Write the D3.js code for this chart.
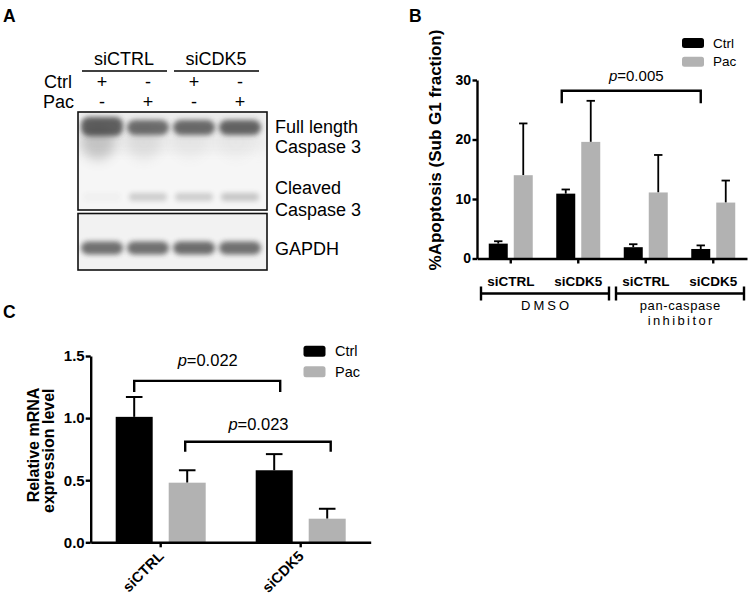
<!DOCTYPE html>
<html>
<head>
<meta charset="utf-8">
<script src="https://cdn.jsdelivr.net/npm/d3@7/dist/d3.min.js"></script>
<style>
  html, body { margin: 0; padding: 0; background: #fff; }
  svg { display: block; font-family: "Liberation Sans", Arial, Helvetica, sans-serif; }
</style>
</head>
<body>
<svg id="fig" width="751" height="597"></svg>
<script>
// ---------------- DATA ----------------
// Panel A (western blot)
const lanes = ["L1", "L2", "L3", "L4"];
const laneGroups = ["siCTRL", "siCDK5"];
const ctrlSigns = ["+", "-", "+", "-"];
const pacSigns = ["-", "+", "-", "+"];
const fullLengthIntensity = [0.8, 0.72, 0.74, 0.78];
const fullLengthSmear = [0.3, 0.12, 0.05, 0.04];
const cleavedIntensity = [0.03, 0.22, 0.22, 0.26];
const gapdhIntensity = [0.72, 0.72, 0.74, 0.72];
const blotLabels = [["Full length", "Caspase 3"], ["Cleaved", "Caspase 3"], ["GAPDH"]];

// Panel B
const bSeries = ["Ctrl", "Pac"];
const bGroups = ["DMSO-siCTRL", "DMSO-siCDK5", "PCI-siCTRL", "PCI-siCDK5"];
const bCategoryLabels = ["siCTRL", "siCDK5", "siCTRL", "siCDK5"];
const bCtrl = [2.5, 10.9, 1.9, 1.6];
const bCtrlErr = [0.4, 0.7, 0.5, 0.6];
const bPac = [14.0, 19.6, 11.1, 9.4];
const bPacErr = [8.7, 6.9, 6.3, 3.7];
const bTicks = [0, 10, 20, 30];
const bTreatments = [["DMSO"], ["pan-caspase", "inhibitor"]];
const bTreatmentGroups = [[0, 1], [2, 3]];
const bComparisonLabel = "=0.005";

// Panel C
const cSeries = ["Ctrl", "Pac"];
const cCategories = ["siCTRL", "siCDK5"];
const cCtrl = [1.01, 0.58];
const cCtrlErr = [0.16, 0.13];
const cPac = [0.48, 0.19];
const cPacErr = [0.10, 0.08];
const cTicks = [0, 0.5, 1.0, 1.5];
const cComparisonLabels = ["=0.022", "=0.023"];

const seriesColor = d3.scaleOrdinal().domain(["Ctrl", "Pac"]).range(["#000000", "#b2b2b2"]);

// ---------------- SVG ----------------
const svg = d3.select("#fig");
svg.append("rect").attr("width", 751).attr("height", 597).attr("fill", "#fff");

const defs = svg.append("defs");
defs.append("filter").attr("id", "blur").attr("x", "-30%").attr("y", "-80%").attr("width", "160%").attr("height", "260%")
  .append("feGaussianBlur").attr("stdDeviation", 2.8);
defs.append("filter").attr("id", "blurBig").attr("x", "-50%").attr("y", "-50%").attr("width", "200%").attr("height", "200%")
  .append("feGaussianBlur").attr("stdDeviation", 6);

function panelLetter(t, x, y) {
  svg.append("text").attr("x", x).attr("y", y).attr("font-size", 17.5).attr("font-weight", "bold").text(t);
}
panelLetter("A", 3, 22);
panelLetter("B", 409, 22);
panelLetter("C", 3, 318);

// ---------------- PANEL A ----------------
(function () {
  const g = svg.append("g");
  const laneX = d3.scalePoint().domain(lanes).range([102, 240]);
  const groupIdx = [[0, 1], [2, 3]];

  laneGroups.forEach((name, i) => {
    const l0 = laneX(lanes[groupIdx[i][0]]), l1 = laneX(lanes[groupIdx[i][1]]);
    g.append("text").attr("x", (l0 + l1) / 2 - 1).attr("y", 65).attr("text-anchor", "middle")
      .attr("font-size", 18).text(name);
    g.append("line").attr("x1", l0 - 20).attr("x2", l1 + 19).attr("y1", 71).attr("y2", 71)
      .attr("stroke", "#000").attr("stroke-width", 1.4);
  });
  g.append("text").attr("x", 72).attr("y", 87.5).attr("text-anchor", "end").attr("font-size", 18).text("Ctrl");
  g.append("text").attr("x", 74).attr("y", 107.5).attr("text-anchor", "end").attr("font-size", 18).text("Pac");
  lanes.forEach((ln, i) => {
    g.append("text").attr("x", laneX(ln)).attr("y", 87.5).attr("text-anchor", "middle").attr("font-size", 18).text(ctrlSigns[i]);
    g.append("text").attr("x", laneX(ln)).attr("y", 107.5).attr("text-anchor", "middle").attr("font-size", 18).text(pacSigns[i]);
  });

  const box1 = { x: 78, y: 112, w: 189, h: 98 };
  const box2 = { x: 78, y: 213.5, w: 189, h: 56.5 };
  [box1, box2].forEach((b, i) => {
    defs.append("clipPath").attr("id", "clipBlot" + i).append("rect")
      .attr("x", b.x).attr("y", b.y).attr("width", b.w).attr("height", b.h);
  });

  const b1 = g.append("g").attr("clip-path", "url(#clipBlot0)");
  b1.append("rect").attr("x", box1.x).attr("y", box1.y).attr("width", box1.w).attr("height", box1.h).attr("fill", "#f6f6f6");
  b1.append("rect").attr("x", box1.x).attr("y", box1.y - 5).attr("width", box1.w).attr("height", 45)
    .attr("fill", "#d8d8d8").attr("opacity", 0.35).attr("filter", "url(#blurBig)");
  b1.selectAll("ellipse.smear").data(lanes).join("ellipse")
    .attr("cx", d => laneX(d) - 4).attr("cy", 142).attr("rx", 17).attr("ry", 18)
    .attr("fill", "#666").attr("opacity", (d, i) => fullLengthSmear[i]).attr("filter", "url(#blurBig)");
  b1.selectAll("rect.fl").data(lanes).join("rect")
    .attr("x", d => laneX(d) - 21).attr("y", (d, i) => i === 0 ? 117 : 120)
    .attr("width", 42).attr("height", (d, i) => i === 0 ? 19 : 15).attr("rx", 8)
    .attr("fill", "#3c3c3c").attr("opacity", (d, i) => fullLengthIntensity[i]).attr("filter", "url(#blur)");
  b1.selectAll("rect.cl").data(lanes).join("rect")
    .attr("x", d => laneX(d) - 19).attr("y", 193).attr("width", 38).attr("height", 8).attr("rx", 4)
    .attr("fill", "#3c3c3c").attr("opacity", (d, i) => cleavedIntensity[i]).attr("filter", "url(#blur)");
  g.append("rect").attr("x", box1.x).attr("y", box1.y).attr("width", box1.w).attr("height", box1.h)
    .attr("fill", "none").attr("stroke", "#111").attr("stroke-width", 1.6);

  const b2 = g.append("g").attr("clip-path", "url(#clipBlot1)");
  b2.append("rect").attr("x", box2.x).attr("y", box2.y).attr("width", box2.w).attr("height", box2.h).attr("fill", "#f2f2f2");
  b2.selectAll("rect.gp").data(lanes).join("rect")
    .attr("x", d => laneX(d) - 21).attr("y", 241.5).attr("width", 42).attr("height", 13).attr("rx", 7)
    .attr("fill", "#3c3c3c").attr("opacity", (d, i) => gapdhIntensity[i]).attr("filter", "url(#blur)");
  g.append("rect").attr("x", box2.x).attr("y", box2.y).attr("width", box2.w).attr("height", box2.h)
    .attr("fill", "none").attr("stroke", "#111").attr("stroke-width", 1.6);

  const labelBaselines = [[133, 153], [193.5, 216], [255]];
  blotLabels.forEach((lines, i) => {
    lines.forEach((t, j) => {
      g.append("text").attr("x", 275).attr("y", labelBaselines[i][j]).attr("font-size", 18).text(t);
    });
  });
})();

// ---------------- helper: bars ----------------
function drawBars(g, groups, series, values, errs, x0, x1, y, capHalf, errWidth) {
  groups.forEach((grp, gi) => {
    series.forEach((s, si) => {
      const v = values[si][gi], e = errs[si][gi];
      const bx = x0(grp) + x0.bandwidth() / 2 + x1(s);
      const cx = bx + x1.bandwidth() / 2;
      g.append("line").attr("x1", cx).attr("x2", cx).attr("y1", y(v)).attr("y2", y(v + e))
        .attr("stroke", "#000").attr("stroke-width", errWidth);
      g.append("line").attr("x1", cx - capHalf).attr("x2", cx + capHalf).attr("y1", y(v + e)).attr("y2", y(v + e))
        .attr("stroke", "#000").attr("stroke-width", errWidth);
      g.append("rect").attr("x", bx).attr("y", y(v)).attr("width", x1.bandwidth()).attr("height", y(0) - y(v))
        .attr("fill", seriesColor(s));
    });
  });
}
function barCenter(x0, x1, grp, s) {
  return x0(grp) + x0.bandwidth() / 2 + x1(s) + x1.bandwidth() / 2;
}
function styleAxis(sel, w) {
  sel.selectAll("path, line").attr("stroke", "#000").attr("stroke-width", w);
  sel.selectAll("text").attr("fill", "#000").attr("font-weight", "bold").attr("font-family", "Liberation Sans, Arial, sans-serif");
}

// ---------------- PANEL B ----------------
(function () {
  const g = svg.append("g");
  const y = d3.scaleLinear().domain([0, 30]).range([258.5, 80]);
  const x0 = d3.scaleBand().domain(bGroups).range([477, 747]);
  const x1 = d3.scaleBand().domain(bSeries).range([-22, 22]).paddingInner(0.24);

  drawBars(g, bGroups, bSeries, [bCtrl, bPac], [bCtrlErr, bPacErr], x0, x1, y, 4.2, 1.8);

  const ya = g.append("g").attr("transform", "translate(477,0)")
    .call(d3.axisLeft(y).tickValues(bTicks).tickSize(4.5).tickSizeOuter(0).tickPadding(1.5).tickFormat(d3.format("d")));
  styleAxis(ya, 2.4);
  ya.selectAll("text").attr("font-size", 14);

  const xa = g.append("g").attr("transform", "translate(0,258.5)")
    .call(d3.axisBottom(x0).tickSize(5).tickSizeOuter(0).tickPadding(12.5).tickFormat((d, i) => bCategoryLabels[i]));
  styleAxis(xa, 2.4);
  xa.selectAll("text").attr("font-size", 13.5);

  g.append("text").attr("transform", "translate(441,150) rotate(-90)").attr("text-anchor", "middle")
    .attr("font-size", 17).attr("font-weight", "bold").text("%Apoptosis (Sub G1 fraction)");

  bTreatmentGroups.forEach((idx, i) => {
    const xa0 = x0(bGroups[idx[0]]) + 4, xa1 = x0(bGroups[idx[1]]) + x0.step() - 3;
    const yb = 293.5;
    g.append("path").attr("d", `M${xa0},${yb - 7}V${yb + 7}M${xa0},${yb}H${xa1}M${xa1},${yb - 7}V${yb + 7}`)
      .attr("fill", "none").attr("stroke", "#000").attr("stroke-width", 2.4);
    const cx = (xa0 + xa1) / 2;
    const lines = bTreatments[i];
    const spacing = lines.length === 1 ? [3] : [0.6, 2.4];
    lines.forEach((t, j) => {
      g.append("text").attr("x", cx + spacing[j] / 2).attr("y", 310 + j * 15).attr("text-anchor", "middle")
        .attr("font-size", 13).attr("letter-spacing", spacing[j]).text(t);
    });
  });

  const xl = barCenter(x0, x1, bGroups[1], "Ctrl") - 4;
  const xr = barCenter(x0, x1, bGroups[3], "Ctrl");
  const yt = y(28.2), yd = y(26.1);
  g.append("path").attr("d", `M${xl},${yd}V${yt}H${xr}V${yd}`).attr("fill", "none")
    .attr("stroke", "#000").attr("stroke-width", 2.4);
  const t = g.append("text").attr("x", (xl + xr) / 2 + 5).attr("y", 81).attr("text-anchor", "middle").attr("font-size", 15);
  t.append("tspan").attr("font-style", "italic").text("p");
  t.append("tspan").text(bComparisonLabel);

  bSeries.forEach((s, i) => {
    g.append("rect").attr("x", 682).attr("y", 38 + i * 18.7).attr("width", 22).attr("height", 10).attr("rx", 2.5)
      .attr("fill", seriesColor(s));
    g.append("text").attr("x", 713).attr("y", 47.5 + i * 18.7).attr("font-size", 13.5).text(s);
  });
})();

// ---------------- PANEL C ----------------
(function () {
  const g = svg.append("g");
  const y = d3.scaleLinear().domain([0, 1.5]).range([542.3, 356]);
  const x0 = d3.scaleBand().domain(cCategories).range([90.7, 370.7]);
  const x1 = d3.scaleBand().domain(cSeries).range([-45, 45]).paddingInner(0.302);

  drawBars(g, cCategories, cSeries, [cCtrl, cPac], [cCtrlErr, cPacErr], x0, x1, y, 8.3, 2);

  const ya = g.append("g").attr("transform", "translate(90.7,0)")
    .call(d3.axisLeft(y).tickValues(cTicks).tickSize(5).tickSizeOuter(0).tickPadding(1).tickFormat(d3.format(".1f")));
  styleAxis(ya, 2.4);
  ya.selectAll("text").attr("font-size", 15);

  const xa = g.append("g").attr("transform", "translate(0,542.3)")
    .call(d3.axisBottom(x0).tickSize(5).tickSizeOuter(0).tickFormat(""));
  styleAxis(xa, 2.4);
  cCategories.forEach(c => {
    const cx = x0(c) + x0.bandwidth() / 2;
    g.append("text").attr("transform", `translate(${cx + 4},${557}) rotate(-45)`).attr("text-anchor", "end")
      .attr("font-size", 14.5).attr("font-weight", "bold").text(c);
  });

  g.append("text").attr("transform", "translate(38.5,445) rotate(-90)").attr("text-anchor", "middle")
    .attr("font-size", 16).attr("font-weight", "bold").text("Relative mRNA");
  g.append("text").attr("transform", "translate(54,450.7) rotate(-90)").attr("text-anchor", "middle")
    .attr("font-size", 16).attr("font-weight", "bold").text("expression level");

  const comps = [
    { from: [cCategories[0], "Ctrl"], to: [cCategories[1], "Ctrl"], top: 1.30, bot: 1.21, dl: 0, dr: 6, ty: 366 },
    { from: [cCategories[0], "Pac"], to: [cCategories[1], "Pac"], top: 0.81, bot: 0.73, dl: -2, dr: 3.5, ty: 430 }
  ];
  comps.forEach((c, i) => {
    const xl = barCenter(x0, x1, c.from[0], c.from[1]) + c.dl;
    const xr = barCenter(x0, x1, c.to[0], c.to[1]) + c.dr;
    g.append("path").attr("d", `M${xl},${y(c.bot)}V${y(c.top)}H${xr}V${y(c.bot)}`).attr("fill", "none")
      .attr("stroke", "#000").attr("stroke-width", 2.4);
    const t = g.append("text").attr("x", (xl + xr) / 2 + 0.5).attr("y", c.ty).attr("text-anchor", "middle").attr("font-size", 16.5);
    t.append("tspan").attr("font-style", "italic").text("p");
    t.append("tspan").text(cComparisonLabels[i]);
  });

  cSeries.forEach((s, i) => {
    g.append("rect").attr("x", 303.5).attr("y", 345.7 + i * 20.5).attr("width", 22).attr("height", 11).attr("rx", 2.5)
      .attr("fill", seriesColor(s));
    g.append("text").attr("x", 335).attr("y", 356.3 + i * 20.5).attr("font-size", 14.5).text(s);
  });
})();
</script>
</body>
</html>
